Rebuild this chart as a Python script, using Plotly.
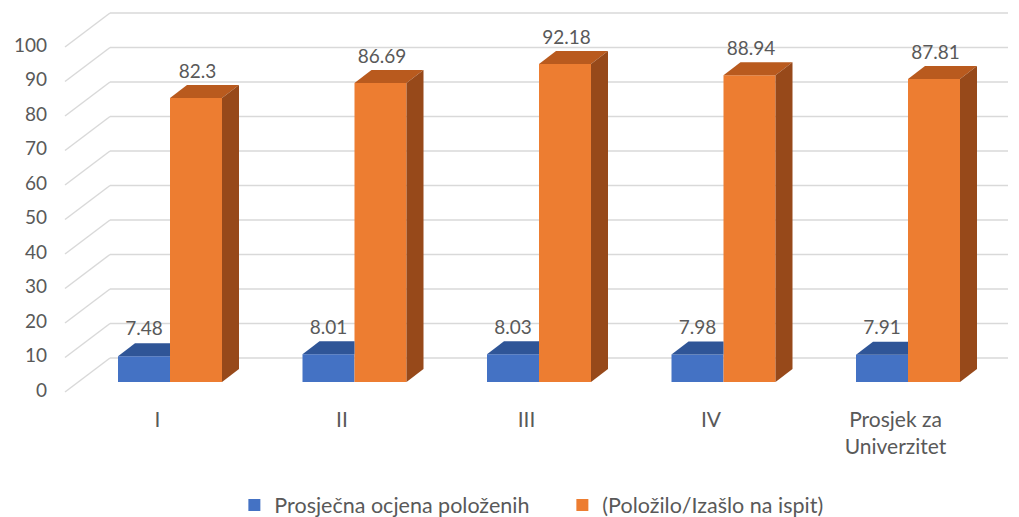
import plotly.graph_objects as go

# ---------------- data ----------------
categories = ["I", "II", "III", "IV", "Prosjek za<br>Univerzitet"]
prosjecna_ocjena = [7.48, 8.01, 8.03, 7.98, 7.91]
polozilo_izaslo = [82.3, 86.69, 92.18, 88.94, 87.81]
series_names = ["Prosječna ocjena položenih", "(Položilo/Izašlo na ispit)"]
y_ticks = [0, 10, 20, 30, 40, 50, 60, 70, 80, 90, 100]

# ---------------- styling / geometry ----------------
W, H = 1019, 517
X0, S = 170.0, 184.5      # px of first category centre, px per category
Y0, K = 382.0, 3.45       # px of value 0 on the bar plane, px per unit
FONT = "Lato"
TXT = "#595959"
GRID = "#d9d9d9"
BLUE, BLUE_TOP = "#4472C4", "#2F5597"
ORANGE, ORANGE_TOP, ORANGE_SIDE = "#ED7D31", "#B95A1E", "#97491A"


def px2x(px):
    return (px - X0) / S


def px2y(py):
    return (Y0 - py) / K


BW = 52.0 / S                  # bar width (x units)
DX, DY = 17.0 / S, 13.0 / K    # bar depth offset
FRONT_X, BACK_X, RIGHT_X = px2x(65), px2x(110), px2x(1008)
FRONT_OFF, BACK_OFF = -10.0 / K, 24.0 / K

fig = go.Figure()

idx = list(range(len(categories)))
blue_x = [i - BW / 2 for i in idx]
orange_x = [i + BW / 2 for i in idx]

# front faces through the library's bar mark
fig.add_trace(go.Bar(x=blue_x, y=prosjecna_ocjena, width=BW, name=series_names[0],
                     marker=dict(color=BLUE, line=dict(width=0)), hoverinfo="y"))
fig.add_trace(go.Bar(x=orange_x, y=polozilo_izaslo, width=BW, name=series_names[1],
                     marker=dict(color=ORANGE, line=dict(width=0)), hoverinfo="y"))


def poly(xs, ys, color):
    fig.add_trace(go.Scatter(x=xs + [xs[0]], y=ys + [ys[0]], mode="lines", fill="toself",
                             fillcolor=color, line=dict(width=0, color=color),
                             showlegend=False, hoverinfo="skip"))


for i, v in zip(idx, prosjecna_ocjena):
    xl, xr = i - BW, i
    # top face, the part behind the orange bar is hidden
    poly([xl, xr, xr, xl + DX], [v, v, v + DY, v + DY], BLUE_TOP)

for i, v in zip(idx, polozilo_izaslo):
    xl, xr = i, i + BW
    poly([xl, xr, xr + DX, xl + DX], [v, v, v + DY, v + DY], ORANGE_TOP)
    poly([xr, xr, xr + DX, xr + DX], [0, v, v + DY, DY], ORANGE_SIDE)

# data labels
fig.add_trace(go.Scatter(
    x=blue_x, y=[v + DY + 12.5 / K for v in prosjecna_ocjena], mode="text",
    text=[f"{v:g}" for v in prosjecna_ocjena], textposition="middle center",
    textfont=dict(family=FONT, size=19, color=TXT), showlegend=False, hoverinfo="skip"))
fig.add_trace(go.Scatter(
    x=[x + 1.5 / S for x in orange_x], y=[v + DY + 11.5 / K for v in polozilo_izaslo], mode="text",
    text=[f"{v:g}" for v in polozilo_izaslo], textposition="middle center",
    textfont=dict(family=FONT, size=19, color=TXT), showlegend=False, hoverinfo="skip"))

# y tick labels at the front edge
fig.add_trace(go.Scatter(
    x=[px2x(47)] * len(y_ticks), y=[t + FRONT_OFF for t in y_ticks], mode="text",
    text=[str(t) for t in y_ticks], textposition="middle left",
    textfont=dict(family=FONT, size=19, color=TXT), showlegend=False, hoverinfo="skip"))

# category labels on the floor front
fig.add_trace(go.Scatter(
    x=[i - 12.5 / S for i in idx], y=[px2y(411)] * len(idx), mode="text",
    text=categories, textposition="bottom center",
    textfont=dict(family=FONT, size=21, color=TXT), showlegend=False, hoverinfo="skip"))

# gridlines: slanted side-wall part + horizontal back-wall part
shapes = []
for t in y_ticks:
    shapes.append(dict(type="line", xref="x", yref="y", layer="below",
                       x0=FRONT_X, y0=t + FRONT_OFF, x1=BACK_X, y1=t + BACK_OFF,
                       line=dict(color=GRID, width=1.5)))
    shapes.append(dict(type="line", xref="x", yref="y", layer="below",
                       x0=BACK_X, y0=t + BACK_OFF, x1=RIGHT_X, y1=t + BACK_OFF,
                       line=dict(color=GRID, width=1.5)))

fig.update_layout(
    width=W, height=H,
    margin=dict(l=0, r=0, t=0, b=0, autoexpand=False),
    paper_bgcolor="white", plot_bgcolor="white",
    shapes=shapes,
    showlegend=True,
    legend=dict(orientation="h", xref="container", yref="container",
                x=0.230, xanchor="left", y=1 - 505 / H, yanchor="middle",
                font=dict(family=FONT, size=21.5, color=TXT), entrywidth=283,
                bgcolor="rgba(0,0,0,0)", traceorder="normal"),
    xaxis=dict(range=[px2x(0), px2x(W)], visible=False, fixedrange=True),
    yaxis=dict(range=[px2y(H), px2y(0)], visible=False, fixedrange=True),
    barmode="overlay",
)

post = "document.body.style.margin='0';document.body.style.overflow='hidden';"
fig.write_html("out.html", config={"displayModeBar": False}, post_script=post)
